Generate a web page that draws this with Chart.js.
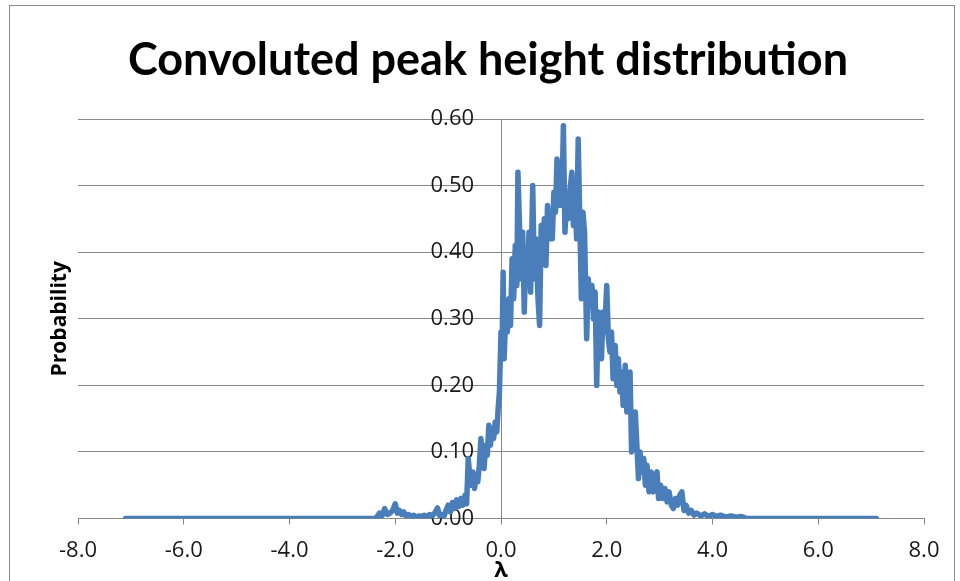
<!DOCTYPE html>
<html>
<head>
<meta charset="utf-8">
<script src="https://cdn.jsdelivr.net/npm/chart.js@4.4.1/dist/chart.umd.min.js"></script>
<style>
  html, body { margin: 0; padding: 0; background: #ffffff; overflow: hidden; }
  #wrap { position: relative; width: 960px; height: 581px; }
  #frame { position: absolute; left: 9px; top: 5px; width: 946px; height: 700px; border: 1.5px solid #8a8a8a; box-sizing: border-box; pointer-events: none; }
  canvas { position: absolute; left: 0; top: 0; }
</style>
</head>
<body>
<div id="wrap">
  <canvas id="c" width="960" height="581"></canvas>
  <div id="frame"></div>
</div>
<script>
const chartTitle = 'Convoluted peak height distribution';
const xAxisTitle = 'λ';
const yAxisTitle = 'Probability';

const lambdaValues = [
  -7.1, -6.0, -5.0, -4.0, -3.0, -2.4, -2.35, -2.3, -2.25, -2.2, -2.15, -2.1, -2.05, -2.0,
  -1.96, -1.92, -1.88, -1.84, -1.8, -1.75, -1.7, -1.65, -1.6, -1.55, -1.5, -1.45, -1.4,
  -1.35, -1.3, -1.25, -1.2, -1.16, -1.12, -1.08, -1.04, -1.0, -0.96, -0.92, -0.88, -0.84,
  -0.8, -0.76, -0.72, -0.68, -0.65, -0.62, -0.59, -0.56, -0.53, -0.5, -0.47, -0.44, -0.41,
  -0.38, -0.35, -0.32, -0.29, -0.26, -0.23, -0.2, -0.17, -0.14, -0.11, -0.08, -0.05, -0.03,
  0.0, 0.02, 0.04, 0.06, 0.09, 0.12, 0.15, 0.18, 0.21, 0.24, 0.27, 0.30, 0.32, 0.35, 0.38,
  0.41, 0.44, 0.47, 0.50, 0.53, 0.56, 0.60, 0.63, 0.66, 0.70, 0.73, 0.76, 0.79, 0.82, 0.85,
  0.88, 0.91, 0.94, 0.97, 1.00, 1.03, 1.06, 1.09, 1.12, 1.15, 1.18, 1.21, 1.24, 1.27, 1.30,
  1.34, 1.37, 1.40, 1.43, 1.46, 1.49, 1.52, 1.55, 1.58, 1.62, 1.65, 1.68, 1.72, 1.75, 1.78,
  1.81, 1.84, 1.87, 1.90, 1.93, 1.96, 2.00, 2.03, 2.06, 2.09, 2.12, 2.16, 2.19, 2.22, 2.25,
  2.28, 2.31, 2.35, 2.38, 2.41, 2.44, 2.47, 2.50, 2.54, 2.57, 2.60, 2.63, 2.66, 2.70, 2.73,
  2.76, 2.80, 2.84, 2.88, 2.92, 2.95, 2.98, 3.02, 3.06, 3.10, 3.14, 3.18, 3.22, 3.26, 3.30,
  3.34, 3.38, 3.42, 3.46, 3.50, 3.55, 3.60, 3.65, 3.70, 3.78, 3.85, 3.92, 4.00, 4.08, 4.15,
  4.25, 4.35, 4.45, 4.55, 4.65, 5.0, 6.0, 7.1
];
const probValues = [
  0, 0, 0, 0, 0, 0, 0.002, 0.008, 0.004, 0.015, 0.006, 0.008, 0.012, 0.022,
  0.008, 0.012, 0.006, 0.010, 0.004, 0.006, 0.003, 0.005, 0.002, 0.004, 0.003, 0.005, 0.002,
  0.006, 0.004, 0.008, 0.016, 0.004, 0.006, 0.003, 0.012, 0.020, 0.010, 0.024, 0.015, 0.028,
  0.018, 0.030, 0.020, 0.035, 0.022, 0.090, 0.065, 0.050, 0.070, 0.045, 0.065, 0.055, 0.080,
  0.120, 0.090, 0.075, 0.110, 0.095, 0.140, 0.110, 0.135, 0.120, 0.145, 0.130, 0.170, 0.190,
  0.280, 0.250, 0.370, 0.240, 0.310, 0.280, 0.330, 0.290, 0.390, 0.330, 0.410, 0.350, 0.520, 0.440, 0.360,
  0.430, 0.310, 0.400, 0.360, 0.430, 0.340, 0.500, 0.360, 0.420, 0.330, 0.290, 0.440, 0.400, 0.450, 0.380,
  0.470, 0.420, 0.450, 0.420, 0.490, 0.460, 0.540, 0.470, 0.500, 0.470, 0.590, 0.430, 0.480, 0.450, 0.490,
  0.520, 0.440, 0.490, 0.420, 0.570, 0.450, 0.330, 0.460, 0.430, 0.270, 0.360, 0.330, 0.350, 0.300, 0.340,
  0.200, 0.310, 0.270, 0.240, 0.310, 0.280, 0.350, 0.270, 0.250, 0.280, 0.210, 0.260, 0.200, 0.240, 0.190,
  0.220, 0.170, 0.230, 0.160, 0.190, 0.220, 0.100, 0.140, 0.160, 0.110, 0.060, 0.100, 0.070, 0.090, 0.050,
  0.080, 0.040, 0.070, 0.040, 0.060, 0.070, 0.030, 0.050, 0.030, 0.045, 0.025, 0.040, 0.020, 0.015, 0.030,
  0.020, 0.035, 0.040, 0.012, 0.020, 0.008, 0.012, 0.005, 0.008, 0.004, 0.007, 0.003, 0.006, 0.003, 0.005,
  0.002, 0.004, 0.002, 0.003, 0, 0, 0, 0
];
const xTickValues = [-8, -6, -4, -2, 0, 2, 4, 6, 8];
const yTickValues = [0, 0.1, 0.2, 0.3, 0.4, 0.5, 0.6];

const gridGray = '#878787';
const lineBlue = '#4A7EBB';

const points = lambdaValues.map((x, i) => ({ x: x, y: probValues[i] }));

new Chart(document.getElementById('c'), {
  type: 'scatter',
  data: {
    datasets: [{
      data: points,
      showLine: true,
      borderColor: lineBlue,
      backgroundColor: lineBlue,
      borderWidth: 5.5,
      pointRadius: 0,
      pointHoverRadius: 0,
      tension: 0,
      borderJoinStyle: 'round',
      borderCapStyle: 'round',
      yAxisID: 'y'
    }]
  },
  options: {
    responsive: false,
    animation: false,
    devicePixelRatio: 1,
    layout: { padding: { left: 52, right: 36, top: 0, bottom: 0 } },
    plugins: {
      legend: { display: false },
      tooltip: { enabled: false },
      title: {
        display: true,
        text: chartTitle,
        color: '#000000',
        font: { family: "Lato, 'Open Sans', sans-serif", size: 45, weight: 'bold', lineHeight: 1.2 },
        padding: { top: 33, bottom: 32 }
      }
    },
    scales: {
      x: {
        type: 'linear',
        position: 'bottom',
        min: -8, max: 8,
        afterBuildTicks: (axis) => { axis.ticks = xTickValues.map(v => ({ value: v })); },
        ticks: {
          color: '#1a1a1a',
          font: { family: "'Open Sans', sans-serif", size: 22, lineHeight: 1.0 },
          padding: 15.5,
          maxRotation: 0,
          autoSkip: false,
          callback: (v) => Number(v).toFixed(1)
        },
        grid: {
          display: true,
          drawOnChartArea: true,
          drawTicks: true,
          tickLength: 6,
          tickColor: gridGray,
          color: (ctx) => (ctx.tick && ctx.tick.value === 0 ? gridGray : 'rgba(0,0,0,0)'),
          lineWidth: 1
        },
        border: { display: true, color: gridGray, width: 1 },
        title: {
          display: true,
          text: xAxisTitle,
          color: '#000000',
          font: { family: "'Open Sans', sans-serif", size: 22, weight: 'bold', lineHeight: 1.0 },
          padding: { top: -17.5, bottom: -1 }
        }
      },
      yTitle: {
        type: 'linear',
        axis: 'y',
        position: 'left',
        min: 0, max: 0.6,
        afterBuildTicks: (axis) => { axis.ticks = yTickValues.map(v => ({ value: v })); },
        afterFit: (scale) => { scale.width = 26; },
        ticks: { display: false },
        grid: { display: true, drawTicks: false, color: gridGray, lineWidth: 1 },
        border: { display: false },
        title: {
          display: true,
          text: yAxisTitle,
          color: '#000000',
          font: { family: "'Open Sans', sans-serif", size: 21, weight: 'bold', lineHeight: 1.2 },
          padding: { top: -5, bottom: 0 }
        }
      },
      y: {
        type: 'linear',
        position: { x: -0.51 },
        min: 0, max: 0.6,
        z: 1,
        afterBuildTicks: (axis) => { axis.ticks = yTickValues.map(v => ({ value: v })); },
        ticks: {
          color: '#1a1a1a',
          font: { family: "'Open Sans', sans-serif", size: 22, lineHeight: 1.0 },
          padding: 0,
          callback: (v) => Number(v).toFixed(2)
        },
        grid: { display: false, drawTicks: false },
        border: { display: false }
      }
    }
  }
});
</script>
</body>
</html>
